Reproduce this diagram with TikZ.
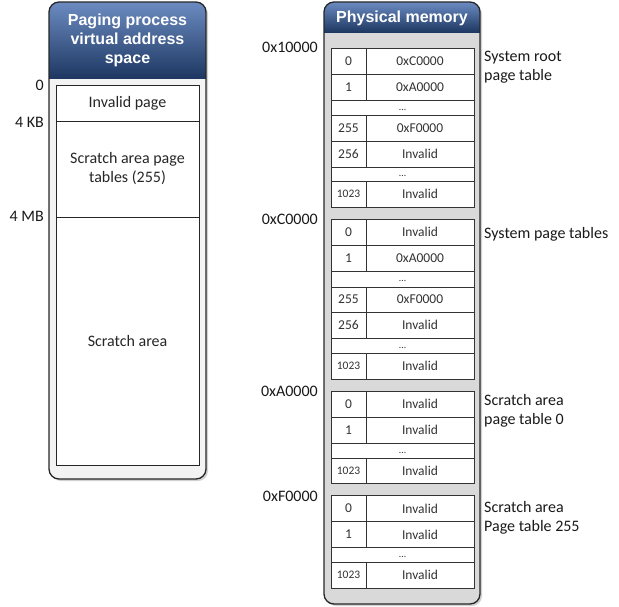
\documentclass[tikz,border=0pt]{standalone}
\usepackage{fontspec}
\setmainfont{Carlito}
\newfontfamily\hdrfont{Liberation Sans}
\definecolor{hdrtop}{HTML}{6B8BC1}
\definecolor{hdrbot}{HTML}{1E3862}
\definecolor{pmgray}{HTML}{D9D9D9}
\definecolor{vbody}{HTML}{F3F3F3}
\definecolor{celltext}{HTML}{333333}
\newcommand\cellfont{\fontsize{13.5}{15}\selectfont}
\newcommand\smallidx{\fontsize{11.5}{13}\selectfont}
\newcommand\lblfont{\fontsize{16}{19}\selectfont}
\newcommand\memrow[5]{%
  \node[idxcell, minimum height=#3pt] (#1i) at (348.5,{#2+#3/2}) {#4};
  \node[valcell, minimum height=#3pt] (#1v) at (420,{#2+#3/2}) {#5};}
\newcommand\dotrow[3]{%
  \node[dotcell, minimum height=#3pt] (#1) at (402.5,{#2+#3/2}) {};
  \node[dottext] (#1t) at ([yshift=-2pt]#1.center) {\ldots};}
\begin{document}
\begin{tikzpicture}[x=1pt,y=-1pt,
  container/.style={draw=black!85, line width=1.3pt, rounded corners=10pt},
  shadowbox/.style={fill=black!18, rounded corners=10pt},
  hdr/.style={font=\hdrfont\bfseries\fontsize{16}{19}\selectfont, text=white, align=center, inner sep=0},
  cellbase/.style={draw=black!80, fill=white, line width=0.8pt, inner sep=0, font=\cellfont, text=celltext},
  idxcell/.style={cellbase, minimum width=35pt},
  valcell/.style={cellbase, minimum width=108pt},
  dotcell/.style={cellbase, minimum width=143pt},
  dottext/.style={font=\fontsize{10}{12}\selectfont, text=celltext, inner sep=0},
  vcell/.style={draw=black!85, fill=white, line width=0.8pt, minimum width=143pt, inner sep=0, align=center, font=\lblfont, text=black!85},
  addr/.style={font=\lblfont, text=black!90, inner sep=0},
  side/.style={font=\lblfont, text=black!90, inner sep=0, align=left, anchor=west}
]
\useasboundingbox (0,0) rectangle (619,606);
% ---------- left container ----------
\fill[shadowbox] (51,4) rectangle (208,481);
\fill[vbody, rounded corners=10pt] (49,2) rectangle (206,479);
\begin{scope}
  \clip[rounded corners=10pt] (49,2) rectangle (206,479);
  \shade[top color=hdrtop, bottom color=hdrbot] (49,2) rectangle (206,78);
\end{scope}
\draw[container] (49,2) rectangle (206,479);
\node[hdr] (vtitle) at (127.5,40) {Paging process\\virtual address\\space};
\node[vcell, minimum height=36pt] (inv) at (127.5,103) {Invalid page};
\node[vcell, minimum height=96pt] (sapt) at (127.5,169) {Scratch area page\\tables (255)};
\node[vcell, minimum height=248pt] (sa) at (127.5,341) {Scratch area};
\node[addr, anchor=east] (l0) at (44,85) {0};
\node[addr, anchor=east] (l4k) at (44,122) {4 KB};
\node[addr, anchor=east] (l4m) at (44,216) {4 MB};
% ---------- right container ----------
\fill[shadowbox] (326,4) rectangle (482,606);
\fill[pmgray, rounded corners=10pt] (324,2) rectangle (480,604);
\begin{scope}
  \clip[rounded corners=10pt] (324,2) rectangle (480,604);
  \shade[top color=hdrtop, bottom color=hdrbot] (324,2) rectangle (480,32);
\end{scope}
\draw[container] (324,2) rectangle (480,604);
\node[hdr] (ptitle) at (402,18) {Physical memory};
% table 1
\memrow{a1}{48}{26}{0}{0xC0000}
\memrow{a2}{74}{26}{1}{0xA0000}
\dotrow{a3}{100}{15}
\memrow{a4}{115}{26}{255}{0xF0000}
\memrow{a5}{141}{26}{256}{Invalid}
\dotrow{a6}{167}{14}
\memrow{a7}{181}{26}{{\smallidx 1023}}{Invalid}
% table 2
\memrow{b1}{219}{26}{0}{Invalid}
\memrow{b2}{245}{26}{1}{0xA0000}
\dotrow{b3}{271}{16}
\memrow{b4}{287}{25}{255}{0xF0000}
\memrow{b5}{312}{26}{256}{Invalid}
\dotrow{b6}{338}{15}
\memrow{b7}{353}{26}{{\smallidx 1023}}{Invalid}
% table 3
\memrow{c1}{391}{26}{0}{Invalid}
\memrow{c2}{417}{26}{1}{Invalid}
\dotrow{c3}{443}{15}
\memrow{c4}{458}{25}{{\smallidx 1023}}{Invalid}
% table 4
\memrow{d1}{495.5}{26}{0}{Invalid}
\memrow{d2}{521.5}{26}{1}{Invalid}
\dotrow{d3}{547.5}{14.5}
\memrow{d4}{562}{26}{{\smallidx 1023}}{Invalid}
% addresses
\node[addr, anchor=east] (r1) at (318,47) {0x10000};
\node[addr, anchor=east] (r2) at (318,219) {0xC0000};
\node[addr, anchor=east] (r3) at (318,391) {0xA0000};
\node[addr, anchor=east] (r4) at (318,496) {0xF0000};
% side labels
\node[side] (s1) at (484,67.5) {System root\\page table};
\node[side] (s2) at (484,234) {System page tables};
\node[side] (s3) at (484,410.5) {Scratch area\\page table 0};
\node[side] (s4) at (484,517.5) {Scratch area\\Page table 255};
\end{tikzpicture}
\end{document}
